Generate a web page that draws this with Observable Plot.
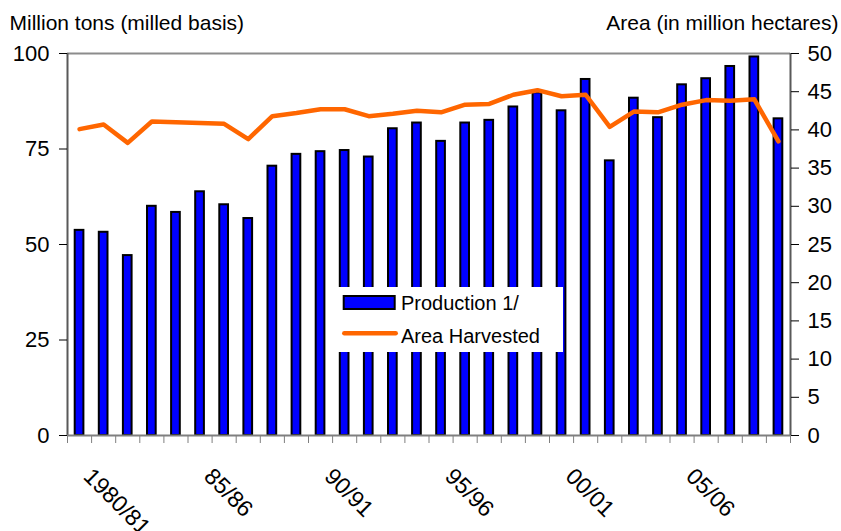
<!DOCTYPE html>
<html>
<head>
<meta charset="utf-8">
<script src="https://cdn.jsdelivr.net/npm/d3@7"></script>
<script src="https://cdn.jsdelivr.net/npm/@observablehq/plot@0.6"></script>
<style>
  body { margin: 0; background: #fff; }
  #chart { position: relative; width: 841px; height: 531px; overflow: hidden; font-family: "Liberation Sans", Arial, sans-serif; }
  #legend { position: absolute; left: 333px; top: 287px; }
</style>
</head>
<body>
<div id="chart"></div>
<script>
// Marketing years, one bar and one line point per year
const seasons = [
  "1980/81", "1981/82", "1982/83", "1983/84", "1984/85", "1985/86", "1986/87", "1987/88",
  "1988/89", "1989/90", "1990/91", "1991/92", "1992/93", "1993/94", "1994/95", "1995/96",
  "1996/97", "1997/98", "1998/99", "1999/00", "2000/01", "2001/02", "2002/03", "2003/04",
  "2004/05", "2005/06", "2006/07", "2007/08", "2008/09", "2009/10"
];

// Production, million tons (milled basis)
const production = [
  53.7, 53.2, 47.1, 60.0, 58.4, 63.8, 60.4, 56.8, 70.5, 73.6,
  74.3, 74.6, 72.9, 80.3, 81.8, 77.0, 81.8, 82.5, 86.0, 89.7,
  85.0, 93.2, 71.9, 88.3, 83.2, 91.8, 93.4, 96.6, 99.1, 82.9
];

// Area harvested, million hectares
const areaHarvested = [
  40.1, 40.7, 38.3, 41.1, 41.0, 40.9, 40.8, 38.8, 41.8, 42.2,
  42.7, 42.7, 41.8, 42.1, 42.5, 42.3, 43.3, 43.4, 44.6, 45.2,
  44.4, 44.6, 40.4, 42.4, 42.3, 43.3, 43.9, 43.8, 44.0, 38.5
];

// Labelled years on the category axis
const tickSeasons = ["1980/81", "1985/86", "1990/91", "1995/96", "2000/01", "2005/06"];
const tickLabels = ["1980/81", "85/86", "90/91", "95/96", "00/01", "05/06"];

const leftTicks = [0, 25, 50, 75, 100];
const rightTicks = [0, 5, 10, 15, 20, 25, 30, 35, 40, 45, 50];

// Area is drawn against the production scale: 50 Mha spans the same height as 100 Mt
const areaToProduction = 100 / 50;

const rows = seasons.map((season, i) => ({
  season, i, production: production[i], area: areaHarvested[i]
}));
const labels = tickSeasons.map((s, k) => ({i: seasons.indexOf(s), label: tickLabels[k]}));

const font = "'Liberation Sans', Arial, sans-serif";

const chart = Plot.plot({
  width: 841,
  height: 531,
  marginLeft: 67,
  marginRight: 51,
  marginTop: 53,
  marginBottom: 96,
  style: {fontFamily: font, background: "white", color: "black", overflow: "visible"},
  x: {type: "linear", domain: [0, seasons.length], axis: null},
  y: {domain: [0, 100], axis: null},
  marks: [
    // top edge of the plot area
    Plot.ruleY([100], {stroke: "#8c8c8c", strokeWidth: 2}),
    // production bars
    Plot.rectY(rows, {
      x: "i", y: "production", interval: 1,
      insetLeft: 7.7, insetRight: 7.7,
      fill: "#0000ff", stroke: "black", strokeWidth: 2
    }),
    // area harvested line on the secondary axis
    Plot.line(rows, {
      x: d => d.i + 0.5, y: d => d.area * areaToProduction,
      stroke: "#ff6600", strokeWidth: 4.5, strokeLinejoin: "round", strokeLinecap: "round"
    }),
    // axis lines
    Plot.ruleX([0], {stroke: "#595959", strokeWidth: 2}),
    Plot.ruleX([seasons.length], {stroke: "#595959", strokeWidth: 2}),
    Plot.ruleY([0], {stroke: "#7f7f7f", strokeWidth: 2}),
    // left axis: production
    Plot.axisY({
      anchor: "left", ticks: leftTicks, tickSize: 8, tickPadding: 10,
      fontSize: 22, label: null
    }),
    // right axis: area
    Plot.axisY({
      anchor: "right", ticks: rightTicks.map(v => v * areaToProduction),
      tickFormat: d => d / areaToProduction, tickSize: 8, tickPadding: 9,
      fontSize: 22, label: null
    }),
    // category boundaries
    Plot.axisX({
      ticks: d3.range(0, seasons.length + 1), tickSize: 8, tickFormat: () => "",
      stroke: "#7f7f7f", label: null
    }),
    // slanted year labels
    Plot.text(labels, {
      x: d => d.i + 0.5, text: "label", frameAnchor: "bottom",
      dy: 37, dx: 8, rotate: 45, textAnchor: "start", lineAnchor: "middle",
      fontSize: 23, fill: "black"
    }),
    // axis titles
    Plot.text(["Million tons (milled basis)"], {
      text: d => d, frameAnchor: "top-left", dx: -58, dy: -24,
      textAnchor: "start", lineAnchor: "bottom", fontSize: 21, fill: "black"
    }),
    Plot.text(["Area (in million hectares)"], {
      text: d => d, frameAnchor: "top-right", dx: 48, dy: -24,
      textAnchor: "end", lineAnchor: "bottom", fontSize: 21, fill: "black"
    })
  ]
});

const root = document.getElementById("chart");
root.appendChild(chart);

// Legend box sitting over the bars
const legend = d3.create("svg")
  .attr("id", "legend")
  .attr("width", 230)
  .attr("height", 65)
  .style("font-family", font)
  .style("font-size", "20px");
legend.append("rect").attr("width", 230).attr("height", 65).attr("fill", "white");
legend.append("rect")
  .attr("x", 10.7).attr("y", 9).attr("width", 51).attr("height", 13)
  .attr("fill", "#0000ff").attr("stroke", "black").attr("stroke-width", 2);
legend.append("text").attr("x", 68).attr("y", 23).text("Production 1/");
legend.append("line")
  .attr("x1", 11.3).attr("x2", 62.7).attr("y1", 46.3).attr("y2", 46.3)
  .attr("stroke", "#ff6600").attr("stroke-width", 4.5).attr("stroke-linecap", "round");
legend.append("text").attr("x", 68).attr("y", 56).text("Area Harvested");
root.appendChild(legend.node());
</script>
</body>
</html>
